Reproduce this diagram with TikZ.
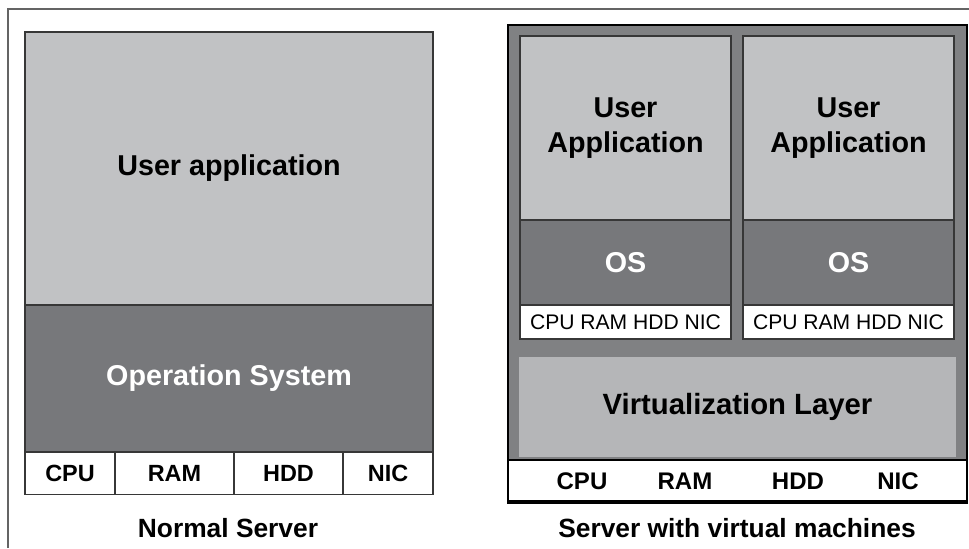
\documentclass[tikz,border=0pt]{standalone}
\usepackage{fontspec}
\setmainfont{Liberation Sans}
\usetikzlibrary{positioning}

\begin{document}
\begin{tikzpicture}[x=0.03cm, y=-0.03cm]

\definecolor{appgray}{RGB}{193, 194, 196}
\definecolor{osgray}{RGB}{119, 120, 123}
\definecolor{hostgray}{RGB}{128, 129, 131}
\definecolor{virtgray}{RGB}{181, 182, 184}
\definecolor{edgegray}{RGB}{55, 55, 55}
\definecolor{framegray}{RGB}{100, 100, 100}

\useasboundingbox (0,0) rectangle (969,548);

\tikzset{
    layer/.style={
        draw=edgegray, line width=0.9pt, rectangle,
        inner sep=0pt, outer sep=0pt, anchor=north west, align=center
    },
    app layer/.style={
        layer, fill=appgray,
        font=\fontsize{24.5}{30}\selectfont\bfseries
    },
    os layer/.style={
        layer, fill=osgray, text=white,
        font=\fontsize{24.5}{30}\selectfont\bfseries
    },
    hw cell/.style={
        layer, fill=white,
        font=\fontsize{20}{24}\selectfont\bfseries
    },
    vm hw/.style={
        layer, fill=white,
        font=\fontsize{18}{22}\selectfont
    },
    hw label/.style={
        inner sep=0pt, font=\fontsize{20.5}{24}\selectfont\bfseries
    },
    caption/.style={
        inner sep=0pt, font=\fontsize{22.5}{27}\selectfont\bfseries
    }
}

% Page frame
\draw[framegray, line width=1.4pt] (8,548) -- (8,9) -- (969,9);

% Normal server (left)
\node[app layer, minimum width=12.24cm, minimum height=8.19cm] (UA) at (25,32) {User application};
\node[os layer, minimum width=12.24cm, minimum height=4.41cm] (OS) at (UA.south west) {Operation System};
\node[hw cell, minimum width=2.7cm, minimum height=1.26cm] (cpuA) at (OS.south west) {CPU};
\node[hw cell, minimum width=3.57cm, minimum height=1.26cm] (ramA) at (cpuA.north east) {RAM};
\node[hw cell, minimum width=3.27cm, minimum height=1.26cm] (hddA) at (ramA.north east) {HDD};
\node[hw cell, minimum width=2.7cm, minimum height=1.26cm] (nicA) at (hddA.north east) {NIC};
\node[caption] (normal) at (228,528) {Normal Server};

% Server with virtual machines (right)
\node[layer, draw=black, line width=2.4pt, fill=hostgray, minimum width=13.77cm, minimum height=14.34cm] (host) at (508,25) {};

% Virtual machine 1
\node[app layer, minimum width=6.33cm, minimum height=5.52cm] (vmUA1) at (520,36) {User\\Application};
\node[os layer, minimum width=6.33cm, minimum height=2.55cm] (vmOS1) at (vmUA1.south west) {OS};
\node[vm hw, minimum width=6.33cm, minimum height=1.02cm] (vmHW1) at (vmOS1.south west) {CPU RAM HDD NIC};

% Virtual machine 2
\node[app layer, minimum width=6.33cm, minimum height=5.52cm] (vmUA2) at (743,36) {User\\Application};
\node[os layer, minimum width=6.33cm, minimum height=2.55cm] (vmOS2) at (vmUA2.south west) {OS};
\node[vm hw, minimum width=6.33cm, minimum height=1.02cm] (vmHW2) at (vmOS2.south west) {CPU RAM HDD NIC};

% Hypervisor and physical hardware
\node[layer, draw=none, fill=virtgray, minimum width=13.11cm, minimum height=3cm,
      font=\fontsize{25}{30}\selectfont\bfseries] (virt) at (519,357) {Virtualization Layer};
\node[layer, draw=black, line width=2.4pt, fill=white, minimum width=13.77cm, minimum height=1.23cm] (hwB) at (508,460) {};
\node[hw label] (cpuB) at (582,481) {CPU};
\node[hw label] (ramB) at (685,481) {RAM};
\node[hw label] (hddB) at (798,481) {HDD};
\node[hw label] (nicB) at (898,481) {NIC};
\node[caption] (virtual) at (737,528) {Server with virtual machines};

\end{tikzpicture}
\end{document}
